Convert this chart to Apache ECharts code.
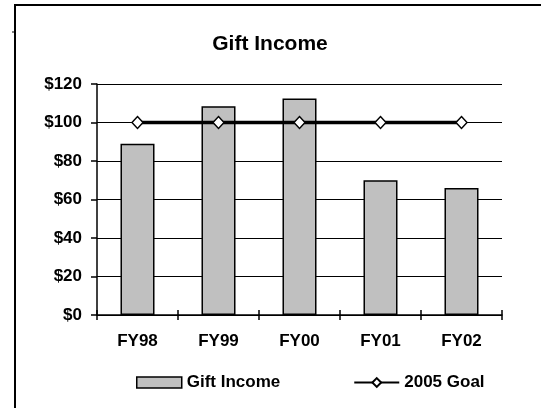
<!DOCTYPE html>
<html>
<head>
<meta charset="utf-8">
<script src="https://cdn.jsdelivr.net/npm/echarts@6/dist/echarts.min.js"></script>
<style>
  html, body { margin: 0; padding: 0; background: #fff; }
  #chart { width: 541px; height: 408px; }
</style>
</head>
<body>
<div id="chart"></div>
<script>
const years = ['FY98', 'FY99', 'FY00', 'FY01', 'FY02']
const giftIncome = [89, 108.5, 112.5, 70, 66]
const goal = [100, 100, 100, 100, 100]
const yTicks = [0, 20, 40, 60, 80, 100, 120]

const chart = echarts.init(document.getElementById('chart'))
const font = 'Liberation Sans, Arial, sans-serif'
const labelFont = { fontFamily: font, fontSize: 17, fontWeight: 'bold', color: '#000' }

const option = {
  backgroundColor: '#fff',
  animation: false,
  title: {
    text: 'Gift Income',
    left: 265,
    top: 29,
    textAlign: 'center',
    textStyle: { fontFamily: font, fontSize: 21, fontWeight: 'bold', color: '#000' }
  },
  grid: { left: 97, right: 39, top: 84, bottom: 93 },
  legend: {
    top: 369,
    left: 131,
    itemGap: 73,
    textStyle: labelFont,
    data: [
      { name: 'Gift Income', icon: 'rect', itemStyle: { color: '#c0c0c0', borderColor: '#000', borderWidth: 1.5 } },
      { name: '2005 Goal' }
    ],
    itemWidth: 45,
    itemHeight: 11
  },
  xAxis: [
    {
      type: 'category',
      data: years,
      axisLine: { lineStyle: { color: '#000', width: 1.5 } },
      axisTick: { show: true, length: 5, lineStyle: { color: '#000', width: 1.5 } },
      axisLabel: Object.assign({ margin: 18 }, labelFont)
    },
    {
      // inward half of the crossing ticks
      type: 'category',
      data: years,
      position: 'bottom',
      axisLine: { show: false },
      axisTick: { show: true, inside: true, length: 5, lineStyle: { color: '#000', width: 1.5 } },
      axisLabel: { show: false }
    }
  ],
  yAxis: {
    type: 'value',
    min: 0,
    max: 120,
    interval: 20,
    axisLine: { show: true, lineStyle: { color: '#000', width: 1.5 } },
    axisTick: { show: true, length: 6, lineStyle: { color: '#000', width: 1.5 } },
    splitLine: { lineStyle: { color: '#000', width: 1.2 } },
    axisLabel: Object.assign({
      margin: 15,
      formatter: (v) => yTicks.includes(v) ? '$' + v : ''
    }, labelFont)
  },
  series: [
    {
      name: 'Gift Income',
      type: 'bar',
      data: giftIncome,
      barWidth: '42%',
      itemStyle: { color: '#c0c0c0', borderColor: '#000', borderWidth: 1.5 }
    },
    {
      name: '2005 Goal',
      type: 'line',
      data: goal,
      symbol: 'diamond',
      symbolSize: [11, 12],
      lineStyle: { color: '#000', width: 3.5 },
      itemStyle: { color: '#fff', borderColor: '#000', borderWidth: 1.5 }
    }
  ],
  graphic: [
    {
      type: 'polyline',
      shape: { points: [[15, 408], [15, 5], [541, 5]] },
      style: { stroke: '#000', lineWidth: 2, fill: null }
    },
    {
      type: 'line',
      shape: { x1: 12, y1: 32, x2: 15, y2: 32 },
      style: { stroke: '#000', lineWidth: 1 }
    }
  ]
}

chart.setOption(option)
</script>
</body>
</html>
